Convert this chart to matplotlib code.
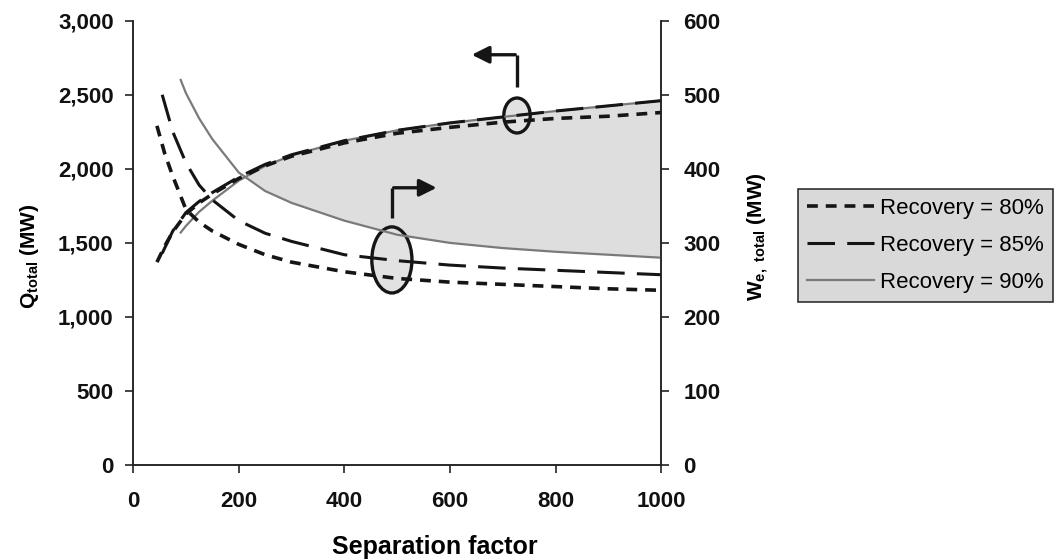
import numpy as np
import matplotlib
matplotlib.use("Agg")
import matplotlib.pyplot as plt
from matplotlib.patches import Ellipse
from matplotlib.ticker import StrMethodFormatter

plt.rcParams['font.family'] = ['Liberation Sans', 'DejaVu Sans']
plt.rcParams['mathtext.default'] = 'regular'

# separation factor for each recovery
x80 = [45, 60, 75, 100, 125, 150, 200, 250, 300, 400, 500, 600, 700, 800, 900, 1000]
x85 = [55, 75, 100, 125, 150, 200, 250, 300, 400, 500, 600, 700, 800, 900, 1000]
x90 = [90, 100, 125, 150, 200, 250, 300, 400, 500, 600, 700, 800, 900, 1000]

# Q total (MW), left axis
q80 = [1370, 1480, 1575, 1695, 1770, 1830, 1935, 2020, 2085, 2175, 2240, 2280, 2315, 2340, 2355, 2380]
q85 = [1430, 1580, 1705, 1780, 1840, 1945, 2030, 2095, 2190, 2260, 2310, 2350, 2390, 2425, 2460]
q90 = [1570, 1615, 1710, 1785, 1920, 2020, 2090, 2190, 2260, 2310, 2350, 2390, 2425, 2460]

# We total (MW), right axis
w80 = [458, 420, 390, 345, 328, 316, 298, 284, 274, 261, 252, 247, 244, 241, 238, 236]
w85 = [500, 450, 408, 378, 358, 330, 313, 302, 284, 276, 270, 266, 263, 260, 257]
w90 = [520, 502, 468, 440, 395, 370, 354, 330, 311, 300, 293, 288, 284, 280]

labels = ['Recovery = 80%', 'Recovery = 85%', 'Recovery = 90%']

fig = plt.figure(figsize=(10.57, 5.59), dpi=100)
ax = fig.add_axes([0.126, 0.168, 0.4995, 0.795])
ax2 = ax.twinx()

# shaded region between Q(90%) and We(90%), We mapped onto Q scale (600 -> 3000)
ratio = 3000 / 600
q90a = np.array(q90)
w90q = np.array(w90) * ratio
ax.fill_between(x90, w90q, q90a, where=q90a >= w90q, interpolate=True,
                color='#dedede', lw=0, zorder=1)

blk = '#151515'
gry = '#7a7a7a'
ax.plot(x80, q80, color=blk, lw=2.6, dashes=(3, 2.2), zorder=3)
ax.plot(x85, q85, color=blk, lw=2.2, dashes=(9, 4), zorder=3)
ax.plot(x90, q90, color=gry, lw=1.6, zorder=2.5)

l80, = ax2.plot(x80, w80, color=blk, lw=2.6, dashes=(3, 2.2))
l85, = ax2.plot(x85, w85, color=blk, lw=2.2, dashes=(9, 4))
l90, = ax2.plot(x90, w90, color=gry, lw=1.6)

# ellipses and arrows
ax.add_patch(Ellipse((727, 2360), 50, 236, facecolor='#e2e2e2', edgecolor=blk, lw=2.4, zorder=2))
ax.add_patch(Ellipse((490, 1385), 76, 446, facecolor='#e2e2e2', edgecolor=blk, lw=2.4, zorder=2))
ax.plot([727, 727], [2554, 2770], color=blk, lw=2.4, solid_capstyle='butt')
ax.annotate('', xy=(636, 2770), xytext=(729, 2770),
            arrowprops=dict(arrowstyle='-|>', color=blk, lw=2.4, mutation_scale=26))
ax.plot([490, 490], [1669, 1872], color=blk, lw=2.4, solid_capstyle='butt')
ax.annotate('', xy=(580, 1872), xytext=(488, 1872),
            arrowprops=dict(arrowstyle='-|>', color=blk, lw=2.4, mutation_scale=26))

ax.set_xlim(0, 1000)
ax.set_ylim(0, 3000)
ax2.set_ylim(0, 600)
ax.set_xticks(range(0, 1001, 200))
ax.set_yticks(range(0, 3001, 500))
ax2.set_yticks(range(0, 601, 100))
ax.yaxis.set_major_formatter(StrMethodFormatter('{x:,.0f}'))

for a in (ax, ax2):
    a.spines['top'].set_visible(False)
    for s in a.spines.values():
        s.set_linewidth(1.1)
        s.set_color('#222222')
    a.tick_params(direction='out', length=6, width=1.1, labelsize=16, colors='#111111')
ax.tick_params(axis='x', pad=13)
ax.tick_params(axis='y', pad=8)
ax2.tick_params(axis='y', pad=10)
for t in ax.get_xticklabels() + ax.get_yticklabels() + ax2.get_yticklabels():
    t.set_fontweight('bold')

ax.set_xlabel('Separation factor', fontsize=18, fontweight='bold')
ax.xaxis.set_label_coords(0.571, -0.158)
ax.set_ylabel(r'Q$_{\mathregular{total}}$ (MW)', fontsize=15, fontweight='bold')
ax.yaxis.set_label_coords(-0.175, 0.47)
ax2.set_ylabel(r'W$_{\mathregular{e,\ total}}$ (MW)', fontsize=15, fontweight='bold')
ax2.yaxis.set_label_coords(1.16, 0.515)

leg = fig.legend([l80, l85, l90], labels, loc='upper left', bbox_to_anchor=(0.755, 0.662),
                 fontsize=16, frameon=True, fancybox=False, framealpha=1,
                 facecolor='#d9d9d9', edgecolor='#222222', handlelength=3.0,
                 handletextpad=0.3, labelspacing=0.72, borderpad=0.4, borderaxespad=0)
leg.get_frame().set_linewidth(1.1)

fig.savefig('out.png', dpi=100)
